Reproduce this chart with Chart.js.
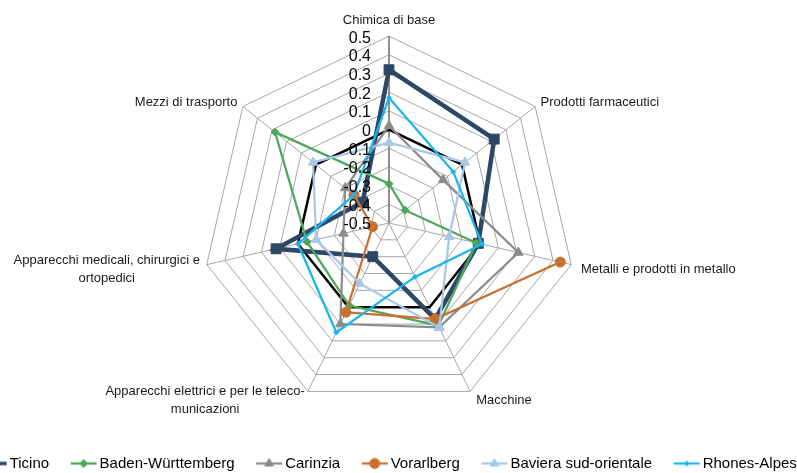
<!DOCTYPE html>
<html>
<head>
<meta charset="utf-8">
<script src="https://cdn.jsdelivr.net/npm/chart.js@4/dist/chart.umd.min.js"></script>
<style>
  html, body { margin: 0; padding: 0; background: #fff; overflow: hidden; width: 797px; height: 473px; }
  #wrap { position: absolute; left: -61px; top: 0; width: 900px; height: 473px; }
</style>
</head>
<body>
<div id="wrap"><canvas id="c"></canvas></div>
<script>
const categories = [
  'Chimica di base',
  'Prodotti farmaceutici',
  'Metalli e prodotti in metallo',
  'Macchine',
  ['Apparecchi elettrici e per le teleco-', 'municazioni'],
  ['Apparecchi medicali, chirurgici e', 'ortopedici'],
  'Mezzi di trasporto'
];
const seriesNames = ['Ticino', 'Baden-Württemberg', 'Carinzia', 'Vorarlberg', 'Baviera sud-orientale', 'Rhones-Alpes'];
const ticino     = [0.32, 0.22, -0.01, 0.07, -0.30, 0.12, -0.32];
const baden      = [-0.29, -0.39, -0.02, 0.11, -0.01, -0.05, 0.28];
const carinzia   = [0.02, -0.13, 0.21, 0.12, 0.10, -0.25, -0.20];
const vorarlberg = [null, null, 0.44, 0.07, 0.03, -0.41, -0.26];
const baviera    = [-0.07, 0.02, -0.17, 0.12, -0.14, -0.10, 0.02];
const rhones     = [0.17, -0.06, 0.01, -0.18, 0.15, 0.00, -0.26];
const zeroLine   = [0, 0, 0, 0, 0, 0, 0];
const tickValues = [0.5, 0.4, 0.3, 0.2, 0.1, 0, -0.1, -0.2, -0.3, -0.4, -0.5];
const tickLabels = ['0.5', '0.4', '0.3', '0.2', '0.1', '0', '-0.1', '-0.2', '-0.3', '-0.4', '-0.5'];

const styles = [
  { color: '#2C4866', point: 'rect', radius: 7, width: 4.5 },
  { color: '#4CA75A', point: 'rectRot', radius: 4, width: 2.25 },
  { color: '#8C8C8C', point: 'triangle', radius: 5.5, width: 2.25 },
  { color: '#C8702F', point: 'circle', radius: 5, width: 2.25 },
  { color: '#A7C9E6', point: 'triangle', radius: 5.5, width: 2.25 },
  { color: '#1CB4EE', point: 'rectRot', radius: 2.5, width: 2.25 }
];
const allData = [ticino, baden, carinzia, vorarlberg, baviera, rhones];

function legendIcon(st) {
  const c = document.createElement('canvas');
  c.width = 40; c.height = 14;
  const g = c.getContext('2d');
  g.strokeStyle = st.color; g.fillStyle = st.color;
  g.lineWidth = Math.min(st.width, 3.5);
  g.beginPath(); g.moveTo(9, 7); g.lineTo(35, 7); g.stroke();
  g.lineWidth = 1;
  Chart.helpers.drawPoint(g, { pointStyle: st.point, radius: Math.min(st.radius, 5), borderWidth: 1, rotation: 0 }, 22, 7);
  return c;
}
const icons = styles.map(legendIcon);

const datasets = allData.map((d, i) => ({
  label: seriesNames[i],
  data: d,
  borderColor: styles[i].color,
  backgroundColor: styles[i].color,
  pointBackgroundColor: styles[i].color,
  pointBorderColor: styles[i].color,
  pointStyle: styles[i].point,
  pointRadius: styles[i].radius,
  pointBorderWidth: 1,
  borderWidth: styles[i].width,
  fill: false,
  spanGaps: false,
  tension: 0,
  order: -i
}));
datasets.push({
  label: '',
  data: zeroLine,
  borderColor: '#000',
  borderWidth: 2.5,
  pointRadius: 0,
  fill: false,
  order: 1
});

const textPlugin = {
  id: 'radarTexts',
  afterDatasetsDraw(chart) {
    const s = chart.scales.r;
    const ctx = chart.ctx;
    ctx.save();
    // value labels along the first spoke
    ctx.font = '16px "Liberation Sans"';
    ctx.fillStyle = '#000';
    ctx.textAlign = 'right';
    ctx.textBaseline = 'middle';
    tickValues.forEach((v, i) => {
      const p = s.getPointPositionForValue(0, v);
      ctx.fillText(tickLabels[i], p.x - 18, p.y + 2);
    });
    // category labels
    ctx.font = '13px "Liberation Sans"';
    ctx.fillStyle = '#1a1a1a';
    ctx.textAlign = 'center';
    const lh = 18;
    categories.forEach((lab, i) => {
      const p = s.getPointPosition(i, s.drawingArea + 7);
      const lines = Array.isArray(lab) ? lab : [lab];
      const bw = Math.max(...lines.map(l => ctx.measureText(l).width));
      let left;
      if (p.x > s.xCenter + 1) left = p.x + (p.y > s.yCenter ? 3 : 0);
      else if (p.x < s.xCenter - 1) left = p.x - bw;
      else left = p.x - bw / 2;
      let top;
      if (Math.abs(p.x - s.xCenter) <= 1 && p.y < s.yCenter) top = p.y - lines.length * lh;
      else top = p.y - lines.length * lh / 2 + (p.y > s.yCenter ? 3 : 0);
      lines.forEach((l, k) => ctx.fillText(l, left + bw / 2, top + lh * (k + 0.5)));
    });
    ctx.restore();
  }
};

new Chart(document.getElementById('c'), {
  type: 'radar',
  data: { labels: categories, datasets },
  options: {
    responsive: true,
    maintainAspectRatio: false,
    animation: false,
    layout: { padding: { top: 9.5, bottom: -8, left: 0, right: 0 } },
    elements: { line: { tension: 0 } },
    scales: {
      r: {
        min: -0.5,
        max: 0.5,
        ticks: { stepSize: 0.1, display: false },
        grid: { color: '#A6A6A6', lineWidth: 1, circular: false },
        angleLines: { color: ctx => ctx.index === 0 ? '#8F8F8F' : '#A6A6A6', lineWidth: ctx => ctx.index === 0 ? 2 : 1 },
        pointLabels: {
          color: 'rgba(0,0,0,0)',
          padding: 9,
          font: { size: 13, family: 'Liberation Sans' }
        }
      }
    },
    plugins: {
      tooltip: { enabled: false },
      legend: {
        position: 'bottom',
        labels: {
          usePointStyle: true,
          pointStyleWidth: 21,
          boxHeight: 15,
          padding: 22,
          color: '#000',
          font: { size: 15, family: 'Liberation Sans' },
          generateLabels(chart) {
            return chart.data.datasets
              .map((ds, i) => ({ text: ds.label, pointStyle: icons[i], datasetIndex: i, hidden: false,
                fillStyle: 'transparent', strokeStyle: 'transparent', lineWidth: 0, fontColor: '#000' }))
              .filter(it => it.text !== '');
          }
        }
      }
    }
  },
  plugins: [textPlugin]
});
</script>
</body>
</html>
